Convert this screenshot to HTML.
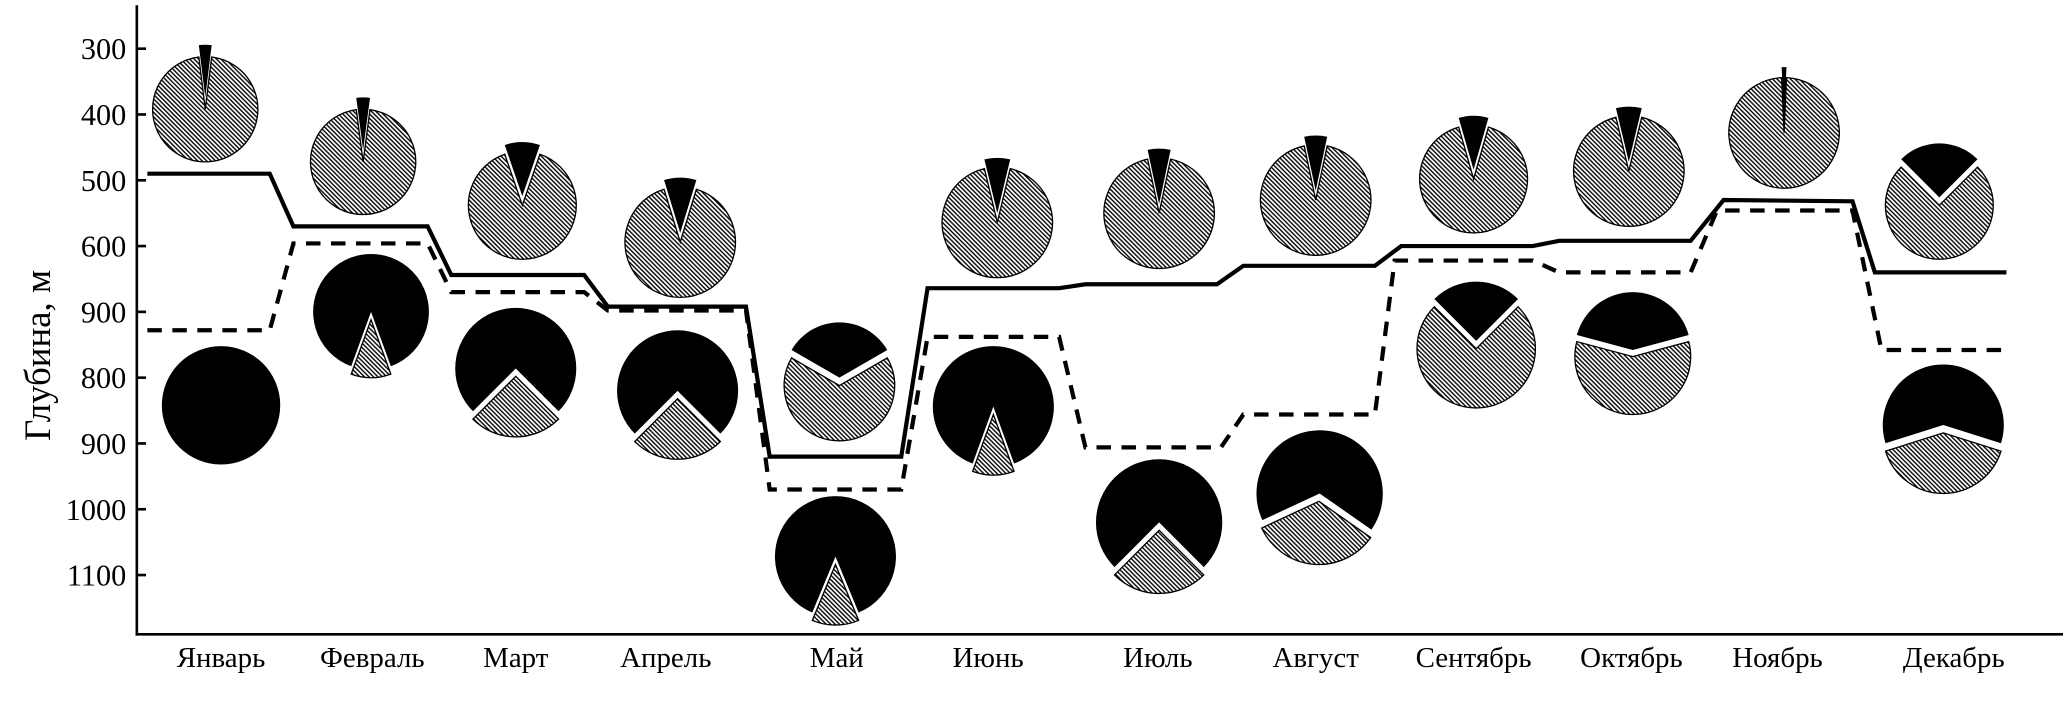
<!DOCTYPE html>
<html><head><meta charset="utf-8"><style>
html,body{margin:0;padding:0;background:#fff;}
svg{display:block;}
text{font-family:"Liberation Serif",serif;fill:#000;}
</style></head><body>
<svg id="s" width="2063" height="704" viewBox="0 0 1568 535" preserveAspectRatio="none" xmlns="http://www.w3.org/2000/svg">
<defs>
<pattern id="h" patternUnits="userSpaceOnUse" width="2.4" height="2.4" patternTransform="rotate(-45)">
<rect width="2.4" height="2.4" fill="#fff"/><line x1="0.6" y1="0" x2="0.6" y2="2.4" stroke="#000" stroke-width="1.05"/>
</pattern>
</defs>
<g stroke="#000" stroke-width="2" fill="none">
<line x1="104" y1="4" x2="104" y2="483"/>
<line x1="103" y1="482" x2="1568" y2="482"/>
<line x1="104" y1="37" x2="111" y2="37"/><line x1="104" y1="87" x2="111" y2="87"/>
<line x1="104" y1="137" x2="111" y2="137"/><line x1="104" y1="187" x2="111" y2="187"/>
<line x1="104" y1="237" x2="111" y2="237"/><line x1="104" y1="287" x2="111" y2="287"/>
<line x1="104" y1="337" x2="111" y2="337"/><line x1="104" y1="387" x2="111" y2="387"/>
<line x1="104" y1="437" x2="111" y2="437"/>
</g>
<g font-size="23" text-anchor="end">
<text x="96" y="45">300</text><text x="96" y="95">400</text><text x="96" y="145">500</text>
<text x="96" y="195">600</text><text x="96" y="245">900</text><text x="96" y="295">800</text>
<text x="96" y="345">900</text><text x="96" y="395">1000</text><text x="96" y="445">1100</text>
</g>
<text font-size="28" text-anchor="middle" transform="translate(38,270) rotate(-90)">Глубина, м</text>
<g font-size="22" text-anchor="middle">
<text x="168" y="507">Январь</text><text x="283" y="507">Февраль</text><text x="392" y="507">Март</text>
<text x="506" y="507">Апрель</text><text x="636" y="507">Май</text><text x="751" y="507">Июнь</text>
<text x="880" y="507">Июль</text><text x="1000" y="507">Август</text><text x="1120" y="507">Сентябрь</text>
<text x="1240" y="507">Октябрь</text><text x="1351" y="507">Ноябрь</text><text x="1485" y="507">Декабрь</text>
</g>
<g id="pies"></g>
<polyline fill="none" stroke="#000" stroke-width="3.2" points="112,132 205,132 223,172 325,172 343,209 444,209 462,233 567,233 585,347 685,347 705,219 805,219 825,216 925,216 945,202 1045,202 1065,187 1165,187 1185,183 1285,183 1310,152 1408,153 1425,207 1525,207"/>
<polyline fill="none" stroke="#000" stroke-width="3.2" stroke-dasharray="11,8" points="112,251 205,251 223,185 325,185 343,222 444,222 462,236 567,236 585,372 685,372 705,256 805,256 825,340 928,340 945,315 1045,315 1060,198 1165,198 1185,207 1285,207 1305,160 1408,160 1430,266 1525,266"/>
</svg>
<script>
var g=document.getElementById('pies');var NS="http://www.w3.org/2000/svg";
function pt(cx,cy,r,a){a=a*Math.PI/180;return [cx+r*Math.sin(a),cy-r*Math.cos(a)];}
function sec(cx,cy,r,a1,a2){var p1=pt(cx,cy,r,a1),p2=pt(cx,cy,r,a2);var l=(a2-a1)>180?1:0;
return "M"+cx+","+cy+" L"+p1[0]+","+p1[1]+" A"+r+","+r+" 0 "+l+" 1 "+p2[0]+","+p2[1]+" Z";}
function add(d,fill,stroke){var p=document.createElementNS(NS,'path');p.setAttribute('d',d);p.setAttribute('fill',fill);
p.setAttribute('stroke',stroke?'#000':'none');p.setAttribute('stroke-width','1');g.appendChild(p);}
var P=[
[156,83,40,'h',0,14,9],[276,123,40,'h',0,15,9],[397,156,41,'h',0,38,7],[517,184,42,'h',0,34,7],
[638,293,42,'h',0,120,6],[758,169,42,'h',0,27,7],[881,162,42,'h',0,24,7],[1000,152,42,'h',0,24,7],
[1120,136,41,'h',0,32,7],[1238,130,42,'h',0,27,7],[1356,101,42,'h',0,5,8],[1474,156,41,'h',0,90,6],
[1122,265,45,'h',0,90,6],[1241,266,44,'b',180,210,5],
[282,237,44,'b',180,40,6],[392,280,46,'b',180,90,6],[515,297,46,'b',180,90,6],[635,423,46,'b',180,45,6],
[755,309,46,'b',180,40,6],[881,397,48,'b',180,90,6],[1003,375,48,'b',185,120,6],[1477,323,46,'b',180,145,6]
];
var H='url(#h)';
var c=document.createElementNS(NS,'circle');c.setAttribute('cx',168);c.setAttribute('cy',308);c.setAttribute('r',45);g.appendChild(c);
P.forEach(function(q){var cx=q[0],cy=q[1],r=q[2],m=q[3],a=q[4],w=q[5],o=q[6];
var mf=m=='h'?H:'#000',wf=m=='h'?'#000':H;
add(sec(cx,cy,r,a+w/2,a+360-w/2),mf,m=='h');
var off=pt(0,0,o,a);add(sec(cx+off[0],cy+off[1],r,a-w/2,a+w/2),wf,m!='h');});
</script>
</body></html>
